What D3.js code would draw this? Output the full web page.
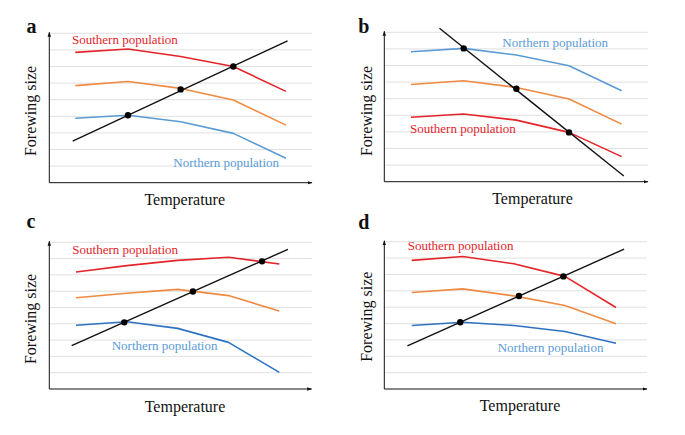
<!DOCTYPE html>
<html>
<head>
<meta charset="utf-8">
<script src="https://cdn.jsdelivr.net/npm/d3@7"></script>
<style>
  html, body { margin: 0; padding: 0; background: #fff; }
  svg { display: block; }
  text { font-family: "Liberation Serif", "Times New Roman", serif; }
</style>
</head>
<body>
<svg id="chart" width="685" height="435"></svg>
<script>
// ---------- DATA ----------
const tempSteps = [0, 1, 2, 3, 4];            // temperature positions (categories)
const gridLevels = [1, 2, 3, 4, 5, 6, 7, 8, 9]; // horizontal gridline levels
const panelLetters = ["a", "b", "c", "d"];
const xAxisTitle = "Temperature";
const yAxisTitle = "Forewing size";
const southLabel = "Southern population";
const northLabel = "Northern population";

// panel a
const aSouthern = [7.85, 8.05, 7.6, 7.0, 5.5];
const aMiddle   = [5.85, 6.1, 5.68, 4.98, 3.47];
const aNorthern = [3.88, 4.06, 3.67, 2.97, 1.47];
const aReaction = [[-0.05, 2.5], [4.03, 8.55]];
const aDots     = [[1, 4.06], [2, 5.62], [3, 7.0]];

// panel b
const bNorthern = [7.83, 8.03, 7.63, 6.99, 5.48];
const bMiddle   = [5.86, 6.08, 5.68, 4.98, 3.47];
const bSouthern = [3.88, 4.08, 3.71, 2.97, 1.51];
const bReaction = [[0.54, 9.24], [4.04, 0.34]];
const bDots     = [[1, 8.03], [2, 5.6], [3, 2.97]];

// panel c
const cSouthern = [7.18, 7.57, 7.89, 8.08, 7.67];
const cMiddle   = [5.6, 5.87, 6.11, 5.73, 4.79];
const cNorthern = [3.91, 4.13, 3.72, 2.86, 1.02];
const cReaction = [[-0.085, 2.66], [4.17, 8.57]];
const cDots     = [[0.95, 4.09], [2.3, 5.98], [3.66, 7.83]];

// panel d
const dSouthern = [7.86, 8.1, 7.65, 6.88, 4.98];
const dMiddle   = [5.9, 6.12, 5.69, 5.1, 3.98];
const dNorthern = [3.88, 4.08, 3.88, 3.51, 2.8];
const dReaction = [[-0.084, 2.63], [4.16, 8.55]];
const dDots     = [[0.95, 4.08], [2.1, 5.68], [2.97, 6.88]];

// ---------- STYLE / LAYOUT ----------
const RED = "#e3252a", ORANGE = "#ef8a42", LBLUE = "#5b9bd5", DBLUE = "#2e73c2";
const TXT_BLUE = "#5b9bd5";

const panels = [
  { letter: panelLetters[0], axisX: 49.3, axisY: 182.7, top: 33.3, right: 312, x0: 75.3, x4: 286,
    series: [[aSouthern, RED], [aMiddle, ORANGE], [aNorthern, LBLUE]], reaction: aReaction, dots: aDots,
    letterPos: [26.5, 33.3], yTitle: [36, 111], xTitle: [184.7, 204.5],
    labels: [[southLabel, RED, 72, 44.3], [northLabel, TXT_BLUE, 173.3, 167]] },
  { letter: panelLetters[1], axisX: 384.3, axisY: 181.7, top: 32.3, right: 648, x0: 411, x4: 621.7,
    series: [[bNorthern, LBLUE], [bMiddle, ORANGE], [bSouthern, RED]], reaction: bReaction, dots: bDots,
    letterPos: [358.3, 33.3], yTitle: [371.5, 111], xTitle: [532.5, 203.5],
    labels: [[northLabel, TXT_BLUE, 502.3, 47], [southLabel, RED, 410, 132.6]] },
  { letter: panelLetters[2], axisX: 49.3, axisY: 389, top: 242.3, right: 311.7, x0: 76, x4: 279.3,
    series: [[cSouthern, RED], [cMiddle, ORANGE], [cNorthern, DBLUE]], reaction: cReaction, dots: cDots,
    letterPos: [26.5, 228.3], yTitle: [36, 319], xTitle: [185, 412],
    labels: [[southLabel, RED, 72.3, 253.6], [northLabel, TXT_BLUE, 111.7, 350.3]] },
  { letter: panelLetters[3], axisX: 384.3, axisY: 389, top: 241.7, right: 647, x0: 411.7, x4: 616,
    series: [[dSouthern, RED], [dMiddle, ORANGE], [dNorthern, DBLUE]], reaction: dReaction, dots: dDots,
    letterPos: [358.3, 229], yTitle: [371.5, 316.7], xTitle: [520, 411],
    labels: [[southLabel, RED, 407.7, 250.3], [northLabel, TXT_BLUE, 497.7, 352]] }
];

const svg = d3.select("#chart");

// arrow marker
svg.append("defs").append("marker")
  .attr("id", "arrow").attr("viewBox", "0 0 10 10")
  .attr("refX", 9).attr("refY", 5)
  .attr("markerWidth", 5).attr("markerHeight", 5)
  .attr("orient", "auto")
  .append("path").attr("d", "M0,1.5 L10,5 L0,8.5 Z").attr("fill", "#111");

panels.forEach(p => {
  const g = svg.append("g");
  const x = d3.scaleLinear().domain([0, 4]).range([p.x0, p.x4]);
  const y = d3.scaleLinear().domain([0, 9]).range([p.axisY, p.top]);

  // gridlines
  g.selectAll("line.grid").data(gridLevels).enter().append("line")
    .attr("class", "grid")
    .attr("x1", p.axisX).attr("x2", p.right)
    .attr("y1", d => y(d)).attr("y2", d => y(d))
    .attr("stroke", "#dcdcdc").attr("stroke-width", 0.9);

  // axes with arrows
  g.append("line")
    .attr("x1", p.axisX).attr("y1", p.axisY)
    .attr("x2", p.axisX).attr("y2", y(9.06))
    .attr("stroke", "#111").attr("stroke-width", 1)
    .attr("marker-end", "url(#arrow)");
  g.append("line")
    .attr("x1", p.axisX).attr("y1", p.axisY)
    .attr("x2", p.right).attr("y2", p.axisY)
    .attr("stroke", "#111").attr("stroke-width", 1)
    .attr("marker-end", "url(#arrow)");

  // population lines
  const line = d3.line().x((d, i) => x(tempSteps[i])).y(d => y(d));
  p.series.forEach(([vals, col]) => {
    g.append("path").datum(vals)
      .attr("d", line)
      .attr("fill", "none").attr("stroke", col)
      .attr("stroke-width", 1.6).attr("stroke-linejoin", "round");
  });

  // reaction norm line
  g.append("path").datum(p.reaction)
    .attr("d", d3.line().x(d => x(d[0])).y(d => y(d[1])))
    .attr("fill", "none").attr("stroke", "#111").attr("stroke-width", 1.4);

  // dots
  g.selectAll("circle").data(p.dots).enter().append("circle")
    .attr("cx", d => x(d[0])).attr("cy", d => y(d[1]))
    .attr("r", 3.2).attr("fill", "#000");

  // population labels
  p.labels.forEach(([t, col, lx, ly]) => {
    g.append("text").attr("x", lx).attr("y", ly)
      .attr("fill", col).attr("font-size", 13).text(t);
  });

  // panel letter
  g.append("text").attr("x", p.letterPos[0]).attr("y", p.letterPos[1])
    .attr("font-size", 20).attr("font-weight", "bold").attr("fill", "#111")
    .text(p.letter);

  // axis titles
  g.append("text")
    .attr("transform", `translate(${p.yTitle[0]},${p.yTitle[1]}) rotate(-90)`)
    .attr("text-anchor", "middle").attr("font-size", 16).attr("fill", "#111")
    .text(yAxisTitle);
  g.append("text").attr("x", p.xTitle[0]).attr("y", p.xTitle[1])
    .attr("text-anchor", "middle").attr("font-size", 16).attr("fill", "#111")
    .text(xAxisTitle);
});
</script>
</body>
</html>
